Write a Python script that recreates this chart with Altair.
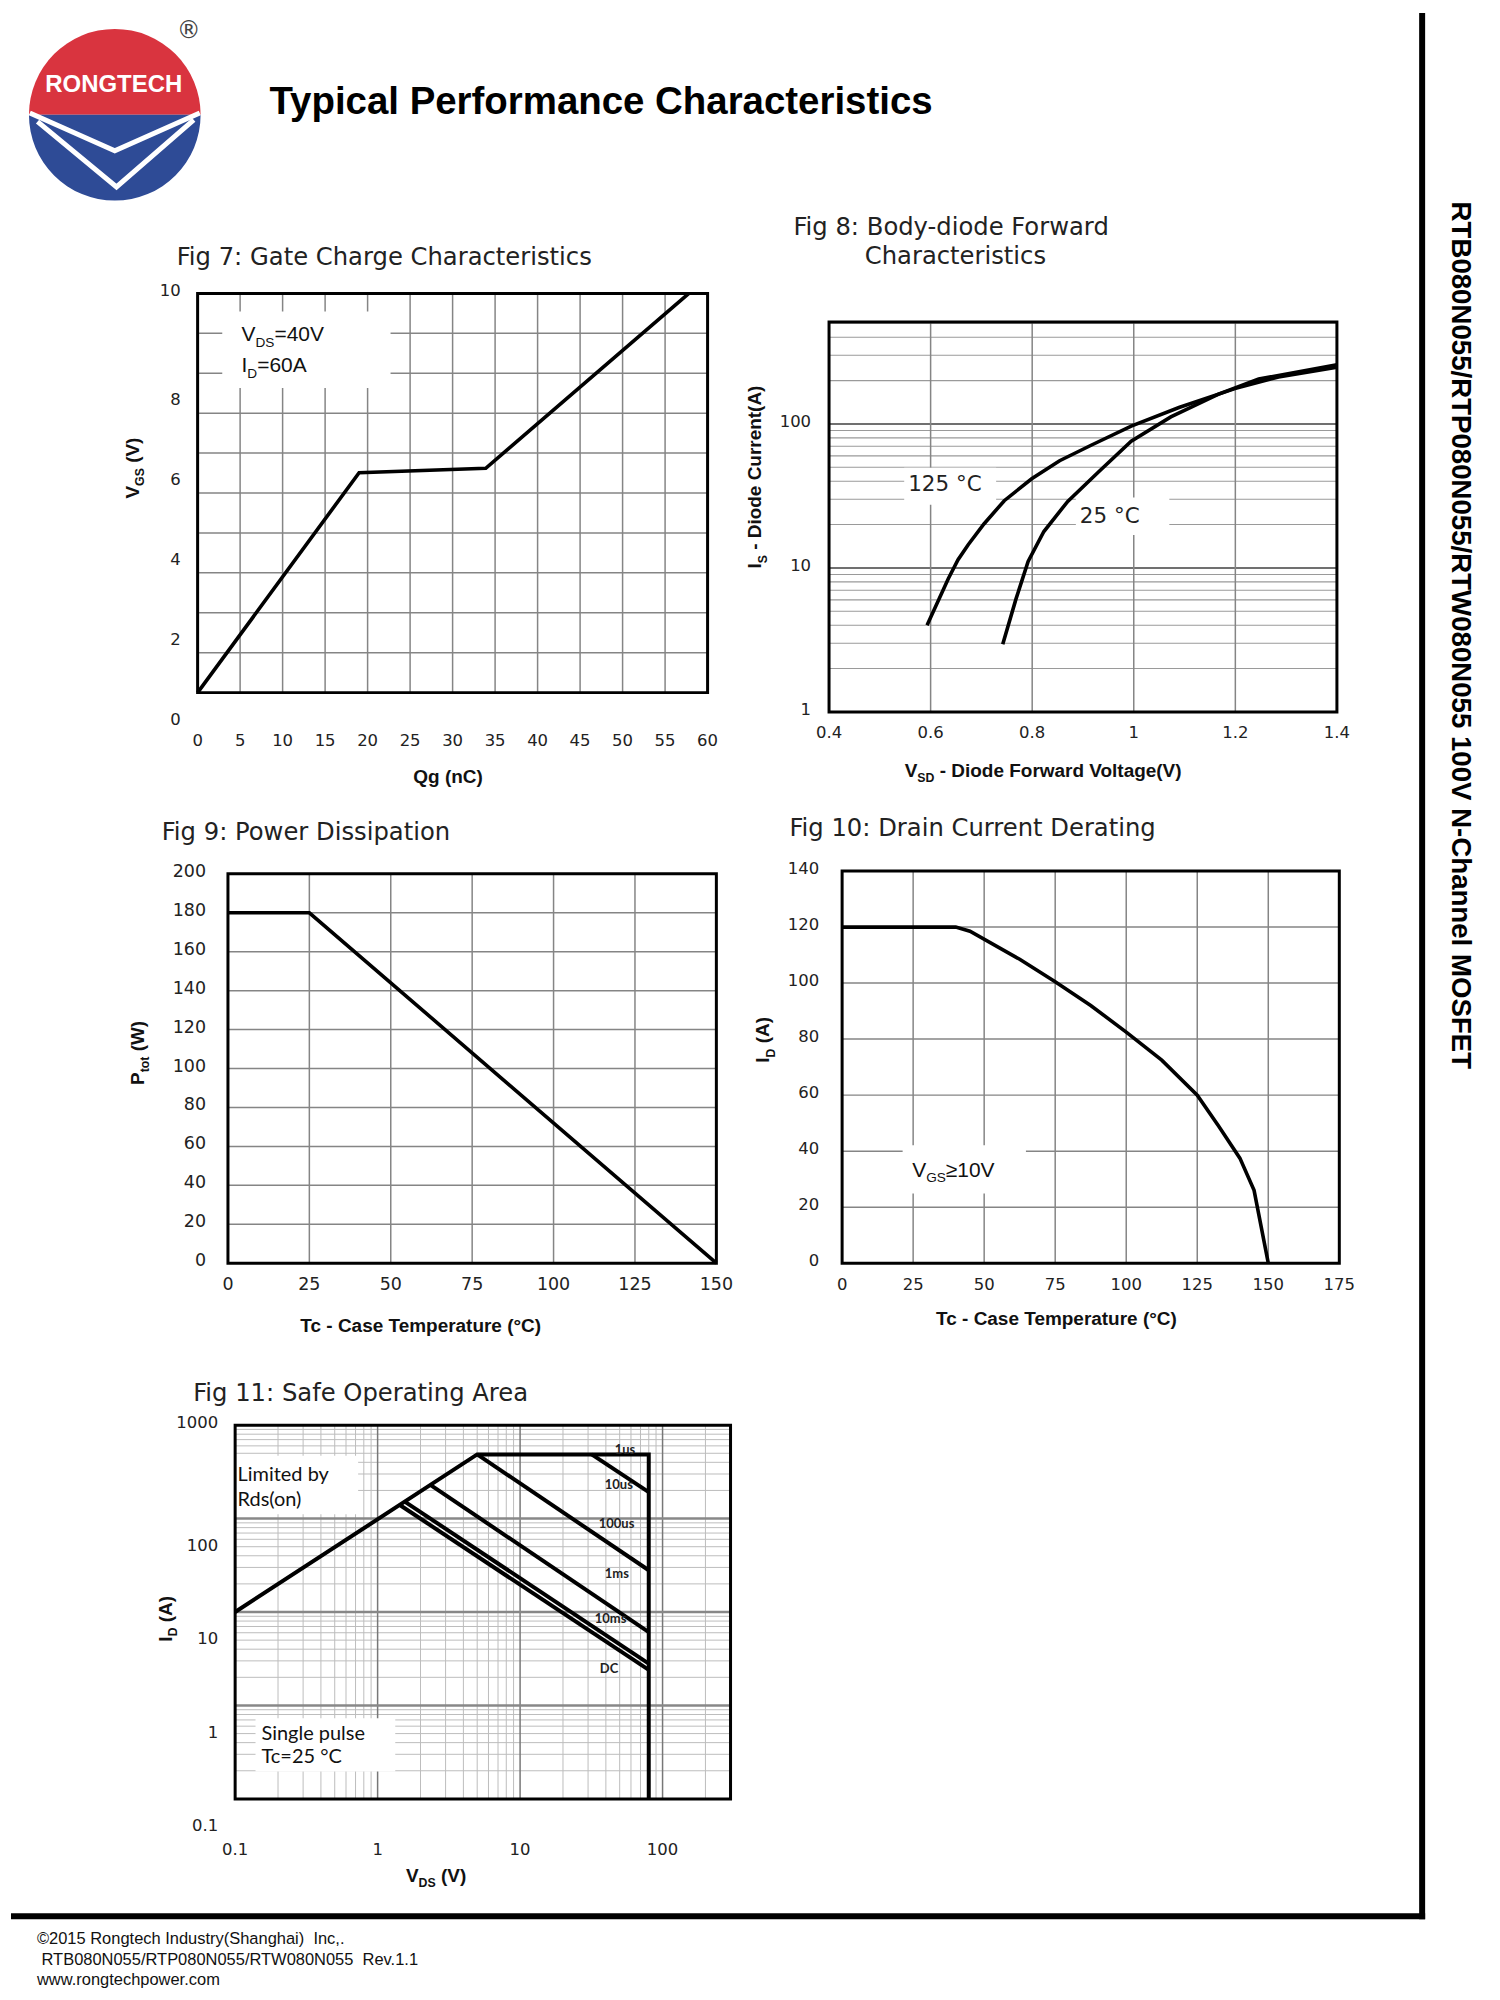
import altair as alt
import pandas as pd
from collections import defaultdict

W, H = 1484, 1984
M = 8  # page margin; page coords -> chart coords

# ---------------- Fig 7: Gate Charge ----------------
F7_QG = [0.0, 19.0, 33.9, 57.8]
F7_VGS = [0.0, 5.51, 5.62, 10.0]
F7_X_TICKS = [0, 5, 10, 15, 20, 25, 30, 35, 40, 45, 50, 55, 60]
F7_Y_TICKS = [0, 2, 4, 6, 8, 10]
F7_GRID_X = [5, 10, 15, 20, 25, 30, 35, 40, 45, 50, 55]
F7_GRID_Y = [1, 2, 3, 4, 5, 6, 7, 8, 9]
F7_NOTE_BOX = [2.9, 22.7, 7.63, 9.55]

# ---------------- Fig 8: Body diode ----------------
F8_V_125 = [0.593, 0.635, 0.654, 0.674, 0.705, 0.745, 0.799, 0.854, 0.917, 0.995, 1.089, 1.199, 1.285, 1.4]
F8_I_125 = [4.0, 8.45, 11.4, 14.5, 20.2, 29.3, 41.6, 55.5, 71.4, 96.5, 130, 176, 212, 248]
F8_V_25 = [0.742, 0.768, 0.792, 0.823, 0.870, 0.932, 0.995, 1.073, 1.167, 1.246, 1.4]
F8_I_25 = [2.95, 6.07, 11.1, 17.9, 29.0, 46.9, 75.9, 112, 161, 205, 258]
F8_X_TICKS = [0.4, 0.6, 0.8, 1.0, 1.2, 1.4]
F8_Y_TICKS = [1, 10, 100]
F8_GRID_X = [0.6, 0.8, 1.0, 1.2]
F8_GRID_Y_MAJOR = [10, 100]
F8_GRID_Y_MINOR = [2, 3, 4, 5, 6, 7, 8, 9, 20, 30, 40, 50, 60, 70, 80, 90, 200, 300, 400, 500]
F8_BOX_125 = [0.548, 0.729, 27.5, 49.6]
F8_BOX_25 = [0.886, 1.070, 16.9, 30.8]

# ---------------- Fig 9: Power dissipation ----------------
F9_TC = [0, 25, 150]
F9_PTOT = [180, 180, 0]
F9_X_TICKS = [0, 25, 50, 75, 100, 125, 150]
F9_Y_TICKS = [0, 20, 40, 60, 80, 100, 120, 140, 160, 180, 200]
F9_GRID_X = [25, 50, 75, 100, 125]
F9_GRID_Y = [20, 40, 60, 80, 100, 120, 140, 160, 180]

# ---------------- Fig 10: Drain current derating ----------------
F10_TC = [0, 40, 45, 62.5, 75, 87.5, 100, 112.5, 125, 132.5, 140, 145, 150]
F10_ID = [120, 120, 118.5, 108.5, 100.5, 92, 82.5, 72.5, 60, 49, 37.5, 26, 0]
F10_X_TICKS = [0, 25, 50, 75, 100, 125, 150, 175]
F10_Y_TICKS = [0, 20, 40, 60, 80, 100, 120, 140]
F10_GRID_X = [25, 50, 75, 100, 125, 150]
F10_GRID_Y = [20, 40, 60, 80, 100, 120]
F10_NOTE_BOX = [21.3, 64.7, 24.9, 42.1]

# ---------------- Fig 11: SOA ----------------
F11_LIMIT_V = [0.1, 5.0, 80.0, 80.0]
F11_LIMIT_I = [10.0, 486.0, 486.0, 0.1]
F11_10US_V = [31.8, 80.0]
F11_10US_I = [486.0, 192.0]
F11_100US_V = [5.0, 80.0]
F11_100US_I = [486.0, 28.0]
F11_1MS_V = [2.36, 80.0]
F11_1MS_I = [228.0, 6.1]
F11_10MS_V = [1.55, 80.0]
F11_10MS_I = [152.0, 2.8]
F11_DC_V = [1.45, 80.0]
F11_DC_I = [138.0, 2.4]
F11_X_TICKS = [0.1, 1, 10, 100]
F11_Y_TICKS = [0.1, 1, 10, 100, 1000]
F11_GRID_X_MAJOR = [1, 10, 100]
F11_GRID_X_MINOR = [0.2, 0.3, 0.4, 0.5, 0.6, 0.7, 0.8, 0.9, 2, 3, 4, 5, 6, 7, 8, 9,
                    20, 30, 40, 50, 60, 70, 80, 90, 200]
F11_GRID_Y_MAJOR = [1, 10, 100]
F11_GRID_Y_MINOR = [0.2, 0.3, 0.4, 0.5, 0.6, 0.7, 0.8, 0.9, 2, 3, 4, 5, 6, 7, 8, 9,
                    20, 30, 40, 50, 60, 70, 80, 90, 200, 300, 400, 500, 600, 700, 800, 900]
F11_BOX_RDS = [0.1, 0.73, 111.0, 470.0]
F11_BOX_PULSE = [0.139, 1.33, 0.196, 0.731]

# ---------------- Logo shape (unit circle coords) ----------------
LOGO_T0 = [-1.5708, 1.5708]
LOGO_T1 = [1.5708, 4.7124]
LOGO_COL = ["#D9343F", "#2E4B96"]
LOGO_RED_X = [-0.99, 0.0, 0.99]
LOGO_RED_Y = [0.0, -0.40, 0.0]
LOGO_W1_X = [-0.99, 0.0, 0.99]
LOGO_W1_Y = [0.02, -0.42, 0.02]
LOGO_W2_X = [-0.90, 0.02, 0.92]
LOGO_W2_Y = [-0.08, -0.84, -0.06]

LABEL_FONT = "DejaVu Sans"
LABEL_COLOR = "#222"


def fmt(v):
    return f"{v:g}"


def series_df(pairs):
    rows = []
    for name, xs, ys in pairs:
        for i, (a, b) in enumerate(zip(xs, ys)):
            rows.append({"x": a, "y": b, "s": name, "o": i})
    return pd.DataFrame(rows)


def panel(xdom, ydom, box, xtype, ytype, grids, boxes, lines, xticks, yticks,
          xpad, ypad, lsize, lw, y_top_plain=None, y_drop=0):
    left, right, top, bottom = box
    xs = alt.Scale(type=xtype, domain=xdom, range=[left - M, right - M], nice=False)
    ys = alt.Scale(type=ytype, domain=ydom, range=[bottom - M, top - M], nice=False)
    layers = []
    for vals, orient, color, width in grids:
        if orient == "v":
            df = pd.DataFrame({"g": vals, "lo": ydom[0], "hi": ydom[1]})
            layers.append(alt.Chart(df).mark_rule(color=color, strokeWidth=width).encode(
                x=alt.X("g:Q", scale=xs, axis=None),
                y=alt.Y("lo:Q", scale=ys, axis=None), y2="hi:Q"))
        else:
            df = pd.DataFrame({"g": vals, "lo": xdom[0], "hi": xdom[1]})
            layers.append(alt.Chart(df).mark_rule(color=color, strokeWidth=width).encode(
                y=alt.Y("g:Q", scale=ys, axis=None),
                x=alt.X("lo:Q", scale=xs, axis=None), x2="hi:Q"))
    if boxes:
        bdf = pd.DataFrame([{"x0": b[0], "x1": b[1], "y0": b[2], "y1": b[3]} for b in boxes])
        layers.append(alt.Chart(bdf).mark_rect(color="white").encode(
            x=alt.X("x0:Q", scale=xs, axis=None), x2="x1:Q",
            y=alt.Y("y0:Q", scale=ys, axis=None), y2="y1:Q"))
    fdf = pd.DataFrame({"x0": [xdom[0]], "x1": [xdom[1]], "y0": [ydom[0]], "y1": [ydom[1]]})
    layers.append(alt.Chart(fdf).mark_rect(fillOpacity=0, stroke="black", strokeWidth=3).encode(
        x=alt.X("x0:Q", scale=xs, axis=None), x2="x1:Q",
        y=alt.Y("y0:Q", scale=ys, axis=None), y2="y1:Q"))
    layers.append(alt.Chart(lines).mark_line(color="black", strokeWidth=lw).encode(
        x=alt.X("x:Q", scale=xs, axis=None),
        y=alt.Y("y:Q", scale=ys, axis=None),
        detail="s:N", order="o:Q"))
    # tick labels, placed through the panel scales
    xl = pd.DataFrame({"v": xticks, "lab": [fmt(v) for v in xticks], "lo": ydom[0]})
    layers.append(alt.Chart(xl).mark_text(
        font=LABEL_FONT, fontSize=lsize, color=LABEL_COLOR, align="center", baseline="middle", dy=xpad
    ).encode(x=alt.X("v:Q", scale=xs, axis=None), y=alt.Y("lo:Q", scale=ys, axis=None), text="lab:N"))
    plain = [v for v in yticks if y_top_plain is not None and v >= y_top_plain]
    dropped = [v for v in yticks if v not in plain]
    for vals, dy in ((plain, -2), (dropped, y_drop - 2)):
        if not vals:
            continue
        yl = pd.DataFrame({"v": vals, "lab": [fmt(v) for v in vals], "lo": xdom[0]})
        layers.append(alt.Chart(yl).mark_text(
            font=LABEL_FONT, fontSize=lsize, color=LABEL_COLOR, align="right",
            baseline="middle", dx=-ypad, dy=dy
        ).encode(y=alt.Y("v:Q", scale=ys, axis=None), x=alt.X("lo:Q", scale=xs, axis=None), text="lab:N"))
    return alt.layer(*layers)


GRID = "#858585"

fig7 = panel([0, 60], [0, 10], (195, 706, 289, 689), "linear", "linear",
             [(F7_GRID_X, "v", GRID, 1.5), (F7_GRID_Y, "h", GRID, 1.5)],
             [F7_NOTE_BOX],
             series_df([("vgs", F7_QG, F7_VGS)]),
             F7_X_TICKS, F7_Y_TICKS, 48, 17, 16.5, 3.6, y_top_plain=10, y_drop=29)

fig8 = panel([0.4, 1.4], [1, 510], (827.7, 1336.6, 317.7, 708.3), "linear", "log",
             [(F8_GRID_Y_MINOR, "h", "#9a9a9a", 1.1), (F8_GRID_Y_MAJOR, "h", "#707070", 2),
              (F8_GRID_X, "v", GRID, 1.5)],
             [F8_BOX_125, F8_BOX_25],
             series_df([("125C", F8_V_125, F8_I_125), ("25C", F8_V_25, F8_I_25)]),
             F8_X_TICKS, F8_Y_TICKS, 21, 18, 16.5, 3.6)

fig9 = panel([0, 150], [0, 200], (225.4, 714.8, 870.6, 1260.7), "linear", "linear",
             [(F9_GRID_X, "v", GRID, 1.5), (F9_GRID_Y, "h", GRID, 1.5)],
             [],
             series_df([("ptot", F9_TC, F9_PTOT)]),
             F9_X_TICKS, F9_Y_TICKS, 22, 22, 17.5, 3.6)

fig10 = panel([0, 175], [0, 140], (840.8, 1339, 867.8, 1260.7), "linear", "linear",
              [(F10_GRID_X, "v", GRID, 1.5), (F10_GRID_Y, "h", GRID, 1.5)],
              [F10_NOTE_BOX],
              series_df([("id", F10_TC, F10_ID)]),
              F10_X_TICKS, F10_Y_TICKS, 22, 23, 16.5, 3.6)

fig11 = panel([0.1, 300], [0.1, 1000], (232.6, 729, 1423, 1797.5), "log", "log",
              [(F11_GRID_X_MINOR, "v", "#bdbdbd", 1), (F11_GRID_Y_MINOR, "h", "#bdbdbd", 1),
               (F11_GRID_X_MAJOR, "v", "#777777", 1.5), (F11_GRID_Y_MAJOR, "h", "#888888", 2.5)],
              [F11_BOX_RDS, F11_BOX_PULSE],
              series_df([("limit", F11_LIMIT_V, F11_LIMIT_I), ("10us", F11_10US_V, F11_10US_I),
                         ("100us", F11_100US_V, F11_100US_I), ("1ms", F11_1MS_V, F11_1MS_I),
                         ("10ms", F11_10MS_V, F11_10MS_I), ("DC", F11_DC_V, F11_DC_I)]),
              F11_X_TICKS, F11_Y_TICKS, 51, 17, 16.5, 4, y_top_plain=1000, y_drop=29.5)

# ---------------- Logo ----------------
LCX, LCY, LR = 112 - M, 110 - M, 86
lxs = alt.Scale(domain=[-1, 1], range=[LCX - LR, LCX + LR], nice=False)
lys = alt.Scale(domain=[-1, 1], range=[LCY + LR, LCY - LR], nice=False)
logo_arc = alt.Chart(pd.DataFrame({"t0": LOGO_T0, "t1": LOGO_T1, "c": LOGO_COL})).mark_arc(radius=LR).encode(
    theta=alt.Theta("t0:Q", scale=None), theta2="t1:Q",
    color=alt.Color("c:N", scale=None), x=alt.value(LCX), y=alt.value(LCY))
logo_red = alt.Chart(pd.DataFrame({"x": LOGO_RED_X, "y": LOGO_RED_Y, "y0": [0, 0, 0], "o": [0, 1, 2]})).mark_area(
    color=LOGO_COL[0]).encode(x=alt.X("x:Q", scale=lxs, axis=None), y=alt.Y("y:Q", scale=lys, axis=None),
                              y2="y0:Q", order="o:Q")
logo_white = alt.Chart(series_df([("w1", LOGO_W1_X, LOGO_W1_Y), ("w2", LOGO_W2_X, LOGO_W2_Y)])).mark_line(
    color="white", strokeWidth=5).encode(x=alt.X("x:Q", scale=lxs, axis=None),
                                         y=alt.Y("y:Q", scale=lys, axis=None), detail="s:N", order="o:Q")
logo = alt.layer(logo_arc, logo_red, logo_white)

# ---------------- Page borders ----------------
border_r = alt.Chart(pd.DataFrame({"a": [0]})).mark_rule(color="black", strokeWidth=6).encode(
    x=alt.value(1422 - M), y=alt.value(0), y2=alt.value(1918 - M))
border_b = alt.Chart(pd.DataFrame({"a": [0]})).mark_rule(color="black", strokeWidth=6).encode(
    x=alt.value(0), x2=alt.value(1425 - M), y=alt.value(1915 - M))

# ---------------- Texts ----------------
AR = {" ": .278, "(": .333, ")": .333, "-": .333, ".": .278, "/": .278, "=": .584, "≥": .549, "°": .4,
      "A": .667, "C": .722, "D": .722, "G": .778, "I": .278, "P": .667, "S": .667, "T": .611, "V": .667,
      "W": .944, "a": .556, "c": .5, "d": .556, "e": .556, "g": .556, "i": .222, "l": .222, "m": .833,
      "n": .556, "o": .556, "r": .333, "t": .278, "u": .556, "w": .722}
AB = {" ": .278, "(": .333, ")": .333, "-": .333, ".": .278, "/": .278, "=": .584, "≥": .549, "°": .4,
      "A": .722, "C": .722, "D": .722, "F": .611, "G": .778, "I": .278, "P": .667, "Q": .778, "S": .667,
      "T": .611, "V": .667, "W": .944, "a": .556, "c": .556, "d": .611, "e": .556, "g": .611, "i": .278,
      "l": .278, "m": .889, "n": .611, "o": .611, "p": .611, "r": .389, "s": .556, "t": .333, "u": .611,
      "w": .778}

TEXT_ROWS = []


def add_text(t, x, y, size, font="Liberation Sans", weight="normal", angle=0, color="#111", align="left"):
    TEXT_ROWS.append(dict(t=t, x=x - M, y=y - M, fs=size, font=font, weight=weight,
                          angle=angle, color=color, align=align))


def tw(s, size, bold):
    tbl = AB if bold else AR
    return sum(tbl.get(ch, 0.556) for ch in s) * size


def rich(segs, ax, ay, size, bold=True, angle=0, centered=True, color="#111"):
    """angle 0: (center-or-start x, baseline y); angle 270: (baseline x, center y)."""
    sub = size * 0.65
    drop = size * 0.27
    weight = "bold" if bold else "normal"
    widths = [tw(s, sub if isub else size, bold) for s, isub in segs]
    total = sum(widths)
    off = -total / 2 if centered else 0
    for (s, isub), w in zip(segs, widths):
        fs = sub if isub else size
        d = drop if isub else 0
        lead = len(s) - len(s.lstrip(" "))
        shift = tw(" " * lead, fs, bold)
        txt = s.strip(" ")
        if angle == 0:
            add_text(txt, ax + off + shift, ay + d, fs, weight=weight, color=color)
        else:
            add_text(txt, ax + d, ay - off - shift, fs, weight=weight, angle=270, color=color)
        off += w


# header
add_text("Typical Performance Characteristics", 267, 109, 38.5, weight="bold", color="#000")
add_text("RONGTECH", 111, 87, 24, weight="bold", color="white", align="center")
add_text("®", 186, 33, 24, font="DejaVu Sans", color="#444", align="center")

# figure titles
TF = dict(font="DejaVu Sans", color="#222")
add_text("Fig 7: Gate Charge Characteristics", 174, 261, 24.3, **TF)
add_text("Fig 8: Body-diode Forward", 792, 230, 24.3, **TF)
add_text("Characteristics", 863.5, 260, 24.3, **TF)
add_text("Fig 9: Power Dissipation", 159, 836.5, 24.3, **TF)
add_text("Fig 10: Drain Current Derating", 788, 832.5, 24.3, **TF)
add_text("Fig 11: Safe Operating Area", 190.5, 1398.5, 24.3, **TF)

# axis titles (bold, with subscripts)
AT = 19
rich([("Qg (nC)", 0)], 446, 775 + 5, AT)
rich([("V", 0), ("SD", 1), (" - Diode Forward Voltage(V)", 0)], 1043, 768.5 + 5, AT)
rich([("Tc - Case Temperature (°C)", 0)], 420, 1325 + 5, AT)
rich([("Tc - Case Temperature (°C)", 0)], 1057, 1318 + 5, AT)
rich([("V", 0), ("DS", 1), (" (V)", 0)], 434, 1875.5 + 5, AT)
rich([("V", 0), ("GS", 1), (" (V)", 0)], 131 + 5, 464, AT, angle=270)
rich([("I", 0), ("S", 1), (" - Diode Current(A)", 0)], 754 + 6, 473, AT, angle=270)
rich([("P", 0), ("tot", 1), (" (W)", 0)], 135 + 6, 1050, AT, angle=270)
rich([("I", 0), ("D", 1), (" (A)", 0)], 762 + 6, 1037, AT, angle=270)
rich([("I", 0), ("D", 1), (" (A)", 0)], 163 + 6, 1617, AT, angle=270)

# in-plot annotations
rich([("V", 0), ("DS", 1), ("=40V", 0)], 239, 337, 21, bold=False, centered=False)
rich([("I", 0), ("D", 1), ("=60A", 0)], 239, 368, 21, bold=False, centered=False)
rich([("V", 0), ("GS", 1), ("≥10V", 0)], 911, 1174, 21, bold=False, centered=False)
add_text("125\u00a0°C", 907, 487, 21.5, font="DejaVu Sans", color="#222")
add_text("25\u00a0°C", 1079, 519, 21.5, font="DejaVu Sans", color="#222")
add_text("Limited by", 235, 1479, 20, font="Lato", color="#111")
add_text("Rds(on)", 235, 1504, 20, font="Lato", color="#111")
add_text("Single pulse", 259, 1738, 20, font="Lato", color="#111")
add_text("Tc=25\u00a0°C", 259, 1762, 20, font="Lato", color="#111")
for lab, lx, ly in [("1us", 613, 1451.5), ("10us", 603, 1486.5), ("100us", 597, 1526.5),
                    ("1ms", 603, 1576.5), ("10ms", 593, 1621.5), ("DC", 598, 1671.5)]:
    add_text(lab, lx, ly, 13, font="Lato", weight="bold", color="#222")

# right vertical banner
add_text("RTB080N055/RTP080N055/RTW080N055 100V N-Channel MOSFET", 1452, 197, 27.7,
         weight="bold", angle=90, color="#000")

# footer
add_text("©2015 Rongtech Industry(Shanghai)\u00a0\u00a0Inc,.", 34, 1943, 16.5)
add_text("RTB080N055/RTP080N055/RTW080N055\u00a0\u00a0Rev.1.1", 34 + 4.6, 1964, 16.5)
add_text("www.rongtechpower.com", 34, 1984, 16.5)

groups = defaultdict(list)
for r in TEXT_ROWS:
    groups[(r["font"], r["weight"], r["angle"], r["color"], r["align"])].append(r)
text_layers = []
for (font, weight, angle, color, align), rows in groups.items():
    df = pd.DataFrame(rows)[["t", "x", "y", "fs"]]
    kw = dict(font=font, fontWeight=weight, color=color, align=align, baseline="alphabetic")
    if angle:
        kw["angle"] = angle
    text_layers.append(alt.Chart(df).mark_text(**kw).encode(
        x=alt.X("x:Q", scale=None, axis=None), y=alt.Y("y:Q", scale=None, axis=None),
        text="t:N", size=alt.Size("fs:Q", scale=None, legend=None)))

chart = alt.layer(
    logo, fig7, fig8, fig9, fig10, fig11, border_r, border_b, *text_layers
).resolve_scale(
    x="independent", y="independent"
).properties(
    width=W, height=H, padding=0, background="white"
).configure_view(strokeWidth=0)

chart.save("out.html", embed_options={"renderer": "svg", "actions": False})
